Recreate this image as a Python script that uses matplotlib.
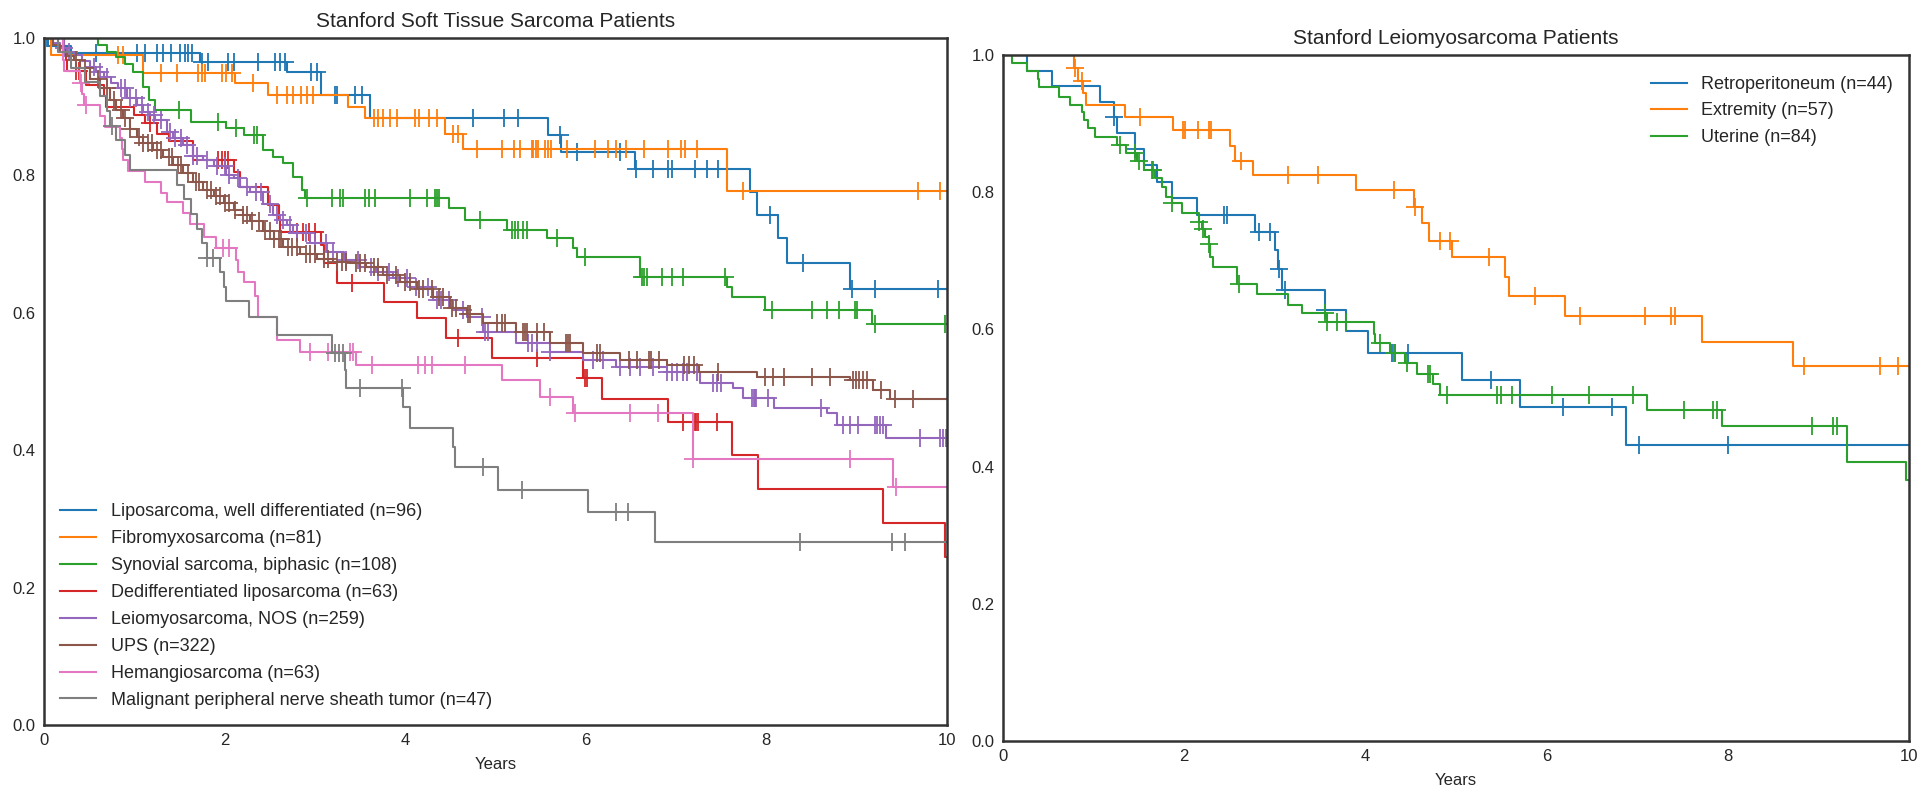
import numpy as np
import matplotlib
matplotlib.use("Agg")
import matplotlib.pyplot as plt

plt.rcParams['font.family'] = ['Liberation Sans', 'DejaVu Sans']

# ---------------- Left panel data ----------------
left_labels = ["Liposarcoma, well differentiated (n=96)", "Fibromyxosarcoma (n=81)",
               "Synovial sarcoma, biphasic (n=108)", "Dedifferentiated liposarcoma (n=63)",
               "Leiomyosarcoma, NOS (n=259)", "UPS (n=322)", "Hemangiosarcoma (n=63)",
               "Malignant peripheral nerve sheath tumor (n=47)"]

lwd_t = [0.05, 0.30, 1.73, 2.69, 3.07, 3.61, 5.58, 5.73, 6.54, 7.82, 7.90, 8.13, 8.23, 8.93]
lwd_s = [0.989, 0.978, 0.965, 0.951, 0.917, 0.883, 0.859, 0.834, 0.809, 0.776, 0.742, 0.709, 0.672, 0.634]
lwd_c = [0.03, 0.58, 1.03, 1.12, 1.25, 1.32, 1.41, 1.51, 1.56, 1.60, 1.64, 1.75, 1.82, 2.04, 2.10, 2.37,
         2.56, 2.61, 2.67, 2.96, 3.02, 3.22, 3.24, 3.44, 3.52, 4.75, 5.09, 5.25, 5.71, 5.90, 6.38, 6.56,
         6.75, 6.91, 6.95, 7.21, 7.34, 7.47, 8.04, 8.41, 8.95, 9.20, 9.90]

fmx_t = [0.08, 1.10, 2.11, 2.48, 3.37, 3.55, 4.44, 4.64, 7.56]
fmx_s = [0.975, 0.949, 0.934, 0.917, 0.900, 0.883, 0.861, 0.838, 0.777]
fmx_c = [0.82, 0.88, 1.30, 1.47, 1.71, 1.75, 1.78, 1.97, 2.02, 2.08, 2.32, 2.58, 2.69, 2.76, 2.85, 2.91,
         2.98, 3.65, 3.70, 3.76, 3.83, 3.91, 4.11, 4.15, 4.26, 4.35, 4.53, 4.58, 4.79, 5.07, 5.21, 5.27,
         5.40, 5.42, 5.45, 5.47, 5.55, 5.58, 5.62, 5.79, 6.10, 6.25, 6.34, 6.45, 6.64, 6.91, 7.06, 7.10,
         7.23, 7.74, 9.68, 9.92]

syn_t = [0.60, 0.70, 0.80, 0.90, 0.99, 1.10, 1.16, 1.23, 1.63, 2.02, 2.22, 2.43, 2.54, 2.65, 2.76, 2.86,
         2.89, 4.48, 4.66, 5.13, 5.57, 5.86, 5.90, 6.60, 7.56, 7.62, 7.98, 9.17]
syn_s = [0.990, 0.980, 0.973, 0.962, 0.951, 0.929, 0.910, 0.895, 0.878, 0.869, 0.859, 0.837, 0.827, 0.818,
         0.798, 0.779, 0.767, 0.752, 0.735, 0.720, 0.709, 0.694, 0.681, 0.652, 0.638, 0.623, 0.604, 0.584]
syn_c = [1.49, 1.93, 2.13, 2.33, 2.36, 2.91, 3.19, 3.28, 3.31, 3.55, 3.60, 3.67, 4.05, 4.24, 4.33, 4.35,
         4.37, 4.83, 5.18, 5.22, 5.25, 5.30, 5.35, 5.68, 5.99, 6.62, 6.64, 6.68, 6.84, 6.95, 7.08, 7.54,
         8.06, 8.51, 8.67, 8.81, 8.98, 9.00, 9.20, 9.98]

ddl_t = [0.22, 0.24, 0.25, 0.46, 0.66, 0.69, 1.00, 1.12, 1.25, 1.38, 1.65, 2.10, 2.17, 2.48, 2.60, 2.61,
         3.07, 3.10, 3.24, 3.77, 4.13, 4.45, 4.96, 5.97, 6.18, 6.91, 7.62, 7.91, 9.29, 9.98]
ddl_s = [0.984, 0.968, 0.952, 0.932, 0.915, 0.899, 0.888, 0.877, 0.861, 0.850, 0.822, 0.805, 0.783, 0.757,
         0.735, 0.718, 0.699, 0.672, 0.643, 0.616, 0.592, 0.563, 0.534, 0.505, 0.474, 0.441, 0.393, 0.344,
         0.294, 0.245]
ddl_c = [0.36, 0.39, 1.17, 1.93, 1.97, 2.00, 2.04, 2.80, 2.87, 2.93, 3.00, 3.41, 4.58, 5.46, 5.99, 6.01,
         7.08, 7.19, 7.21, 7.22, 7.24, 7.45]

lms_t = [0.10, 0.18, 0.25, 0.33, 0.42, 0.51, 0.58, 0.66, 0.74, 0.82, 0.92, 1.03, 1.10, 1.17, 1.23, 1.36,
         1.43, 1.54, 1.65, 1.76, 1.88, 2.02, 2.10, 2.17, 2.28, 2.43, 2.54, 2.61, 2.69, 2.76, 2.95, 3.13,
         3.32, 3.50, 3.68, 3.87, 4.05, 4.31, 4.53, 4.68, 4.86, 5.23, 5.60, 5.97, 6.34, 6.90, 7.26, 7.63,
         7.74, 8.09, 8.67, 8.78, 9.33]
lms_s = [0.993, 0.985, 0.980, 0.975, 0.966, 0.958, 0.951, 0.944, 0.935, 0.927, 0.912, 0.902, 0.893, 0.888,
         0.881, 0.863, 0.854, 0.844, 0.829, 0.822, 0.813, 0.800, 0.796, 0.783, 0.776, 0.759, 0.742, 0.735,
         0.728, 0.716, 0.701, 0.689, 0.677, 0.667, 0.660, 0.650, 0.638, 0.619, 0.604, 0.594, 0.572, 0.556,
         0.543, 0.531, 0.521, 0.514, 0.498, 0.490, 0.476, 0.461, 0.454, 0.437, 0.418]
lms_c = [0.22, 0.28, 0.55, 0.62, 0.70, 0.85, 0.90, 0.95, 1.02, 1.08, 1.15, 1.22, 1.30, 1.40, 1.45, 1.52,
         1.58, 1.65, 1.70, 1.80, 1.92, 2.00, 2.05, 2.15, 2.25, 2.35, 2.40, 2.50, 2.58, 2.65, 2.72, 2.80,
         2.90, 3.00, 3.12, 3.20, 3.35, 3.48, 3.62, 3.70, 3.82, 3.92, 4.02, 4.12, 4.25, 4.35, 4.40, 4.48,
         4.64, 4.85, 4.88, 4.92, 5.36, 5.40, 5.46, 5.60, 6.08, 6.19, 6.38, 6.49, 6.60, 6.75, 6.90, 6.95,
         7.01, 7.08, 7.12, 7.23, 7.41, 7.45, 7.50, 7.84, 7.86, 7.87, 7.89, 8.02, 8.61, 8.85, 8.93, 9.02,
         9.20, 9.22, 9.26, 9.29, 9.70, 9.92, 9.96, 9.99]

ups_t = [0.10, 0.18, 0.25, 0.33, 0.40, 0.51, 0.62, 0.73, 0.80, 0.88, 0.95, 1.03, 1.10, 1.21, 1.32, 1.43,
         1.54, 1.65, 1.76, 1.88, 1.99, 2.10, 2.20, 2.28, 2.43, 2.55, 2.65, 2.84, 3.02, 3.20, 3.39, 3.57,
         3.76, 3.94, 4.13, 4.31, 4.50, 4.68, 4.86, 5.23, 5.60, 5.97, 6.38, 6.90, 7.25, 7.90, 8.93, 9.18, 9.37]
ups_s = [0.990, 0.980, 0.974, 0.968, 0.956, 0.941, 0.927, 0.910, 0.895, 0.883, 0.868, 0.856, 0.847, 0.837,
         0.827, 0.815, 0.803, 0.791, 0.779, 0.770, 0.760, 0.750, 0.742, 0.733, 0.719, 0.708, 0.696, 0.686,
         0.679, 0.674, 0.672, 0.667, 0.655, 0.645, 0.635, 0.623, 0.607, 0.598, 0.585, 0.572, 0.556, 0.541,
         0.531, 0.524, 0.514, 0.507, 0.502, 0.487, 0.474]
ups_c = [0.35, 0.45, 0.60, 0.70, 0.78, 0.85, 0.90, 0.95, 1.05, 1.10, 1.15, 1.20, 1.25, 1.30, 1.38, 1.42,
         1.48, 1.52, 1.60, 1.68, 1.72, 1.80, 1.85, 1.90, 1.95, 2.00, 2.05, 2.12, 2.20, 2.25, 2.30, 2.38,
         2.45, 2.50, 2.55, 2.60, 2.62, 2.70, 2.75, 2.80, 2.90, 2.95, 3.00, 3.10, 3.15, 3.25, 3.30, 3.35,
         3.45, 3.50, 3.55, 3.65, 3.70, 3.80, 3.90, 4.00, 4.05, 4.15, 4.20, 4.30, 4.38, 4.42, 4.52, 4.56,
         4.70, 4.72, 5.02, 5.07, 5.11, 5.31, 5.33, 5.35, 5.46, 5.54, 5.78, 5.80, 5.82, 6.13, 6.16, 6.48,
         6.57, 6.70, 6.72, 6.81, 7.09, 7.14, 7.20, 7.47, 7.99, 8.07, 8.20, 8.51, 8.70, 8.96, 8.99, 9.03,
         9.07, 9.12, 9.27, 9.43, 9.62]

hem_t = [0.21, 0.22, 0.40, 0.42, 0.44, 0.62, 0.68, 0.84, 0.86, 0.88, 0.93, 1.12, 1.30, 1.36, 1.54, 1.62,
         1.77, 1.90, 2.13, 2.15, 2.21, 2.34, 2.37, 2.58, 2.83, 3.46, 5.07, 5.49, 5.86, 7.19, 9.40]
hem_s = [0.968, 0.952, 0.935, 0.918, 0.902, 0.886, 0.870, 0.854, 0.838, 0.822, 0.806, 0.790, 0.774, 0.762,
         0.745, 0.729, 0.710, 0.694, 0.677, 0.660, 0.645, 0.625, 0.594, 0.560, 0.543, 0.524, 0.502, 0.478,
         0.454, 0.387, 0.347]
hem_c = [0.41, 0.47, 1.98, 2.05, 2.95, 3.15, 3.39, 3.42, 3.63, 4.14, 4.22, 4.30, 4.66, 5.60, 5.88, 6.49,
         6.80, 7.19, 8.93, 9.44]

mpn_t = [0.15, 0.30, 0.45, 0.62, 0.70, 0.73, 0.80, 0.90, 0.95, 1.47, 1.55, 1.63, 1.70, 1.75, 1.80, 1.95,
         1.99, 2.02, 2.27, 2.58, 3.19, 3.33, 3.35, 3.98, 4.05, 4.53, 4.55, 5.03, 6.02, 6.77]
mpn_s = [0.979, 0.957, 0.936, 0.915, 0.894, 0.872, 0.851, 0.830, 0.808, 0.786, 0.765, 0.744, 0.722, 0.701,
         0.680, 0.659, 0.638, 0.617, 0.594, 0.568, 0.541, 0.517, 0.491, 0.463, 0.432, 0.405, 0.376, 0.342,
         0.310, 0.266]
mpn_c = [0.75, 1.80, 1.87, 3.22, 3.27, 3.31, 3.50, 3.96, 4.86, 5.29, 6.34, 6.47, 8.37, 9.39, 9.53]

# ---------------- Right panel data ----------------
right_labels = ["Retroperitoneum (n=44)", "Extremity (n=57)", "Uterine (n=84)"]

ret_t = [0.26, 0.54, 1.07, 1.22, 1.26, 1.46, 1.55, 1.70, 1.86, 2.14, 2.78, 3.00, 3.03, 3.08, 3.55, 3.78,
         4.03, 5.06, 5.70, 6.88]
ret_s = [0.977, 0.955, 0.932, 0.909, 0.886, 0.863, 0.840, 0.815, 0.791, 0.767, 0.742, 0.716, 0.688, 0.658,
         0.628, 0.597, 0.565, 0.526, 0.487, 0.432]
ret_c = [1.22, 1.46, 2.44, 2.47, 2.82, 2.95, 3.04, 3.11, 3.55, 4.29, 4.33, 4.47, 5.38, 6.18, 6.72, 7.02, 8.00]

ext_t = [0.78, 0.83, 0.88, 0.92, 1.35, 1.88, 2.50, 2.56, 2.76, 3.90, 4.53, 4.62, 4.70, 4.95, 5.54, 5.58,
         6.20, 7.71, 8.72]
ext_s = [0.981, 0.962, 0.944, 0.927, 0.910, 0.890, 0.867, 0.846, 0.825, 0.803, 0.779, 0.755, 0.729, 0.705,
         0.677, 0.648, 0.619, 0.582, 0.546]
ext_c = [0.79, 0.87, 1.51, 1.99, 2.01, 2.15, 2.27, 2.29, 2.63, 3.15, 3.48, 4.32, 4.55, 4.82, 4.93, 5.36,
         5.87, 6.37, 7.08, 7.37, 7.42, 8.84, 9.68, 9.88]

ute_t = [0.10, 0.26, 0.38, 0.40, 0.62, 0.74, 0.87, 0.89, 0.94, 1.02, 1.26, 1.36, 1.48, 1.55, 1.68, 1.75,
         1.80, 1.86, 1.97, 2.16, 2.19, 2.23, 2.27, 2.28, 2.32, 2.58, 2.80, 3.15, 3.30, 3.57, 4.09, 4.11,
         4.27, 4.44, 4.57, 4.75, 4.82, 7.11, 7.93, 9.31, 9.96]
ute_s = [0.988, 0.976, 0.965, 0.954, 0.939, 0.927, 0.917, 0.905, 0.893, 0.880, 0.869, 0.857, 0.845, 0.832,
         0.820, 0.808, 0.793, 0.784, 0.769, 0.757, 0.747, 0.735, 0.725, 0.706, 0.691, 0.666, 0.652, 0.636,
         0.624, 0.611, 0.594, 0.580, 0.565, 0.551, 0.535, 0.521, 0.505, 0.483, 0.459, 0.407, 0.380]
ute_c = [1.29, 1.46, 1.50, 1.64, 1.66, 1.86, 2.16, 2.21, 2.27, 2.60, 3.55, 3.57, 3.68, 3.79, 4.16, 4.31,
         4.46, 4.69, 4.71, 4.90, 5.45, 5.50, 5.62, 6.06, 6.47, 6.95, 7.52, 7.83, 7.88, 8.93, 9.16, 9.20]

x_end = 10.0
tab = ['#1f77b4', '#ff7f0e', '#2ca02c', '#d62728', '#9467bd', '#8c564b', '#e377c2', '#7f7f7f']


def km(ax, times, surv, censors, color, label):
    times = np.asarray(times)
    surv = np.asarray(surv)
    x = np.concatenate([[0.0], times, [x_end]])
    y = np.concatenate([[1.0], surv, [surv[-1]]])
    ax.step(x, y, where='post', color=color, lw=1.5, label=label)
    c = np.asarray(censors)
    idx = np.searchsorted(times, c, side='right')
    cy = np.concatenate([[1.0], surv])[idx]
    ax.plot(c, cy, linestyle='none', marker='+', ms=13, mew=1.3, color=color)


def style(ax, title):
    ax.set_xlim(0, 10)
    ax.set_ylim(0, 1.0)
    ax.set_xticks([0, 2, 4, 6, 8, 10])
    ax.set_yticks([0.0, 0.2, 0.4, 0.6, 0.8, 1.0])
    ax.tick_params(length=0, labelsize=12, colors='#262626', pad=6)
    for sp in ax.spines.values():
        sp.set_color('#333333')
        sp.set_linewidth(1.8)
    ax.set_title(title, fontsize=15, color='#262626', pad=8)
    ax.set_xlabel('Years', fontsize=12, color='#262626', labelpad=6)


fig = plt.figure(figsize=(19.29, 7.89), dpi=100)
ax1 = fig.add_axes([0.0228, 0.0811, 0.4681, 0.8707])
ax2 = fig.add_axes([0.5200, 0.0608, 0.4697, 0.8695])

left_series = [(lwd_t, lwd_s, lwd_c), (fmx_t, fmx_s, fmx_c), (syn_t, syn_s, syn_c),
               (ddl_t, ddl_s, ddl_c), (lms_t, lms_s, lms_c), (ups_t, ups_s, ups_c),
               (hem_t, hem_s, hem_c), (mpn_t, mpn_s, mpn_c)]
for i, (t, s, c) in enumerate(left_series):
    km(ax1, t, s, c, tab[i], left_labels[i])

right_series = [(ret_t, ret_s, ret_c), (ext_t, ext_s, ext_c), (ute_t, ute_s, ute_c)]
for i, (t, s, c) in enumerate(right_series):
    km(ax2, t, s, c, tab[i], right_labels[i])

style(ax1, 'Stanford Soft Tissue Sarcoma Patients')
style(ax2, 'Stanford Leiomyosarcoma Patients')

leg1 = ax1.legend(loc='lower left', frameon=False, fontsize=13, labelspacing=0.55)
leg2 = ax2.legend(loc='upper right', bbox_to_anchor=(1.0, 0.993), frameon=False,
                  fontsize=13, labelspacing=0.52)
for leg in (leg1, leg2):
    for txt in leg.get_texts():
        txt.set_color('#262626')

fig.savefig('out.png', dpi=100)
